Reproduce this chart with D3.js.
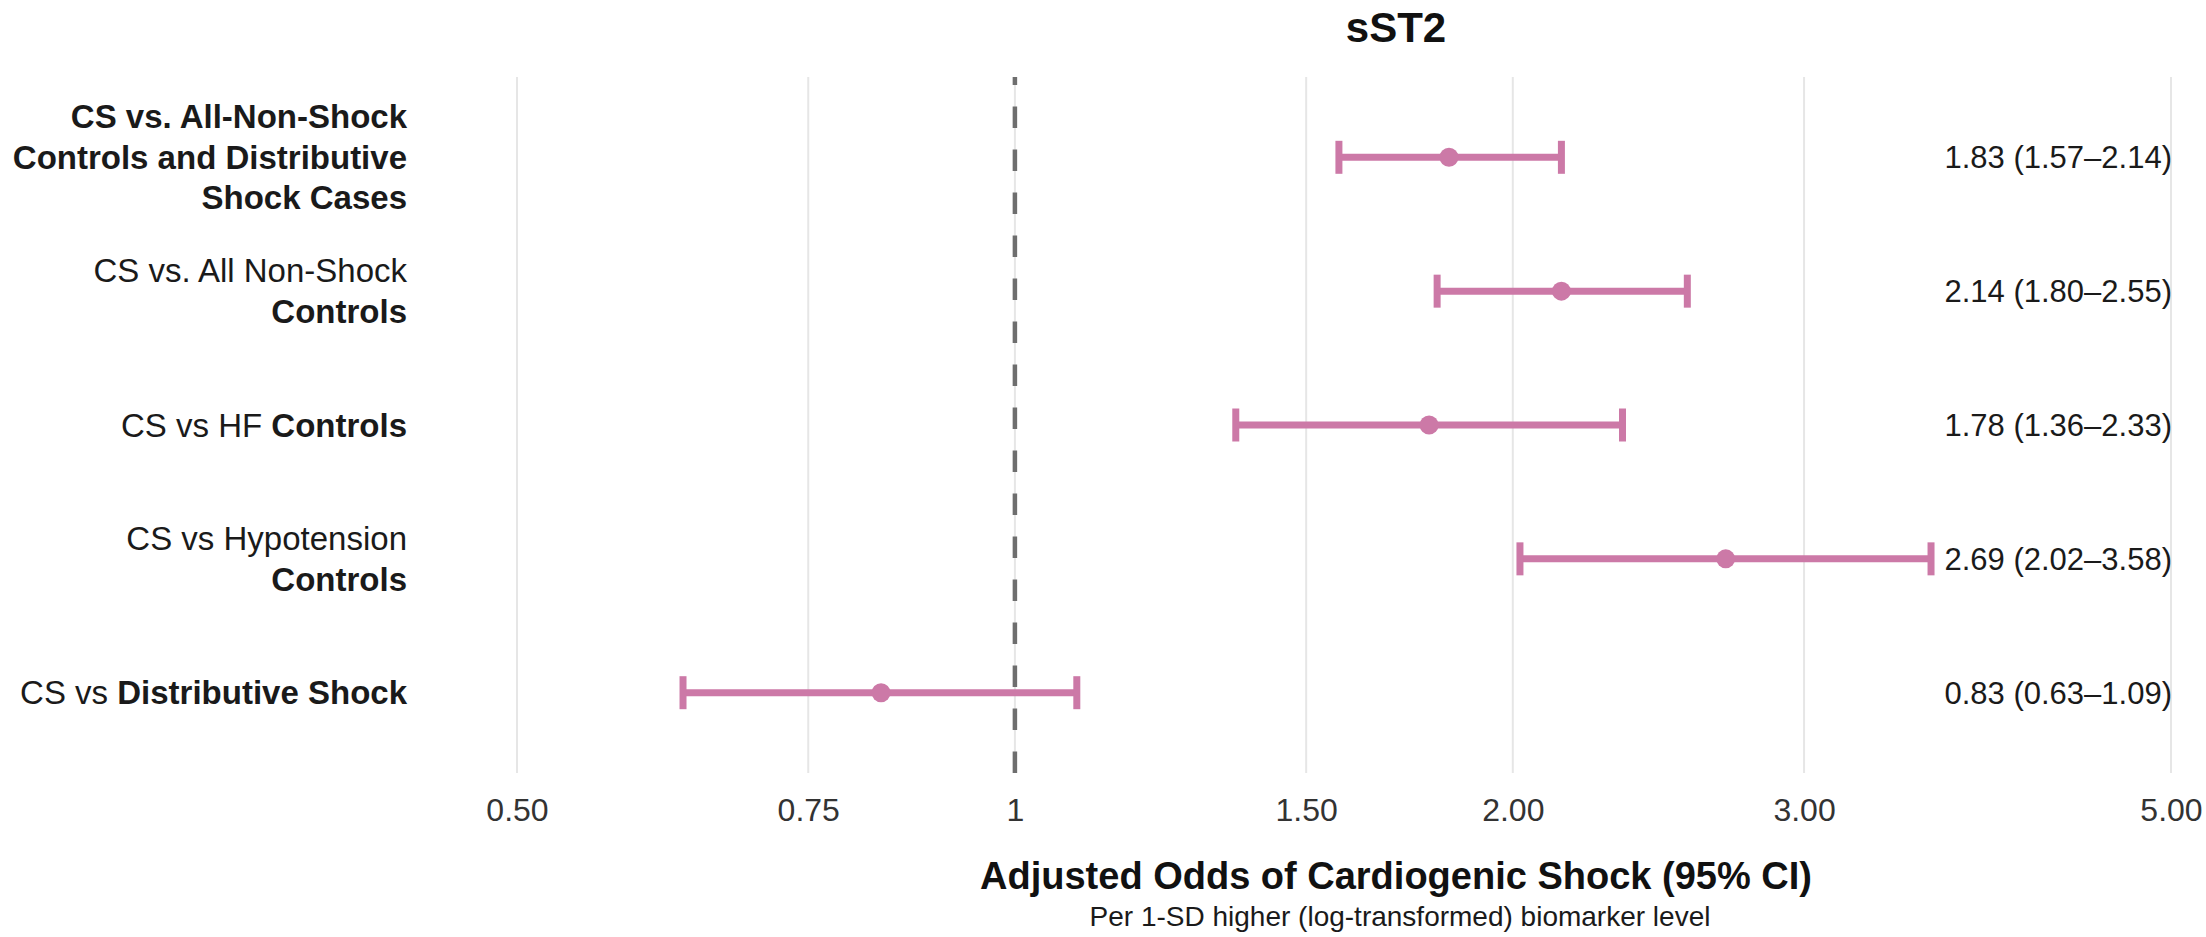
<!DOCTYPE html>
<html>
<head>
<meta charset="utf-8">
<script src="https://cdn.jsdelivr.net/npm/d3@7"></script>
<style>
  html, body { margin: 0; padding: 0; background: #fff; }
  svg { display: block; font-family: "Liberation Sans", Arial, sans-serif; }
  text { white-space: pre; }
</style>
</head>
<body>
<svg id="chart" width="2206" height="937"></svg>
<script>
// ---- data ----
const categories = ["allNonShockDist", "allNonShock", "hf", "hypotension", "distributive"];
const estimates = [1.83, 2.14, 1.78, 2.69, 0.83];
const lowerCI = [1.57, 1.80, 1.36, 2.02, 0.63];
const upperCI = [2.14, 2.55, 2.33, 3.58, 1.09];
const valueLabels = ["1.83 (1.57\u20132.14)", "2.14 (1.80\u20132.55)", "1.78 (1.36\u20132.33)", "2.69 (2.02\u20133.58)", "0.83 (0.63\u20131.09)"];
// label lines: each line is a list of [text, bold] segments
const categoryLabels = [
  [[["CS vs. All-Non-Shock", true]], [["Controls and Distributive", true]], [["Shock Cases", true]]],
  [[["CS vs. All Non-Shock", false]], [["Controls", true]]],
  [[["CS vs HF ", false], ["Controls", true]]],
  [[["CS vs Hypotension", false]], [["Controls", true]]],
  [[["CS vs ", false], ["Distributive Shock", true]]]
];
const tickValues = [0.5, 0.75, 1, 1.5, 2, 3, 5];
const tickLabels = ["0.50", "0.75", "1", "1.50", "2.00", "3.00", "5.00"];
const chartTitle = "sST2";
const xTitle = "Adjusted Odds of Cardiogenic Shock (95% CI)";
const xSubtitle = "Per 1-SD higher (log-transformed) biomarker level";

// ---- layout ----
const panel = { left: 517, right: 2171, top: 77, bottom: 773 };
const color = "#CC79A7";

const svg = d3.select("#chart");

const x = d3.scaleLog().domain([0.5, 5]).range([panel.left, panel.right]);
const y = d3.scalePoint().domain(categories).range([panel.top, panel.bottom]).padding(0.6);

// gridlines
svg.append("g").selectAll("line").data(tickValues).join("line")
  .attr("x1", d => x(d)).attr("x2", d => x(d))
  .attr("y1", panel.top).attr("y2", panel.bottom)
  .attr("stroke", "#e6e6e6").attr("stroke-width", 2);

// reference line at 1 (drawn bottom to top)
svg.append("line")
  .attr("x1", x(1)).attr("x2", x(1))
  .attr("y1", panel.bottom).attr("y2", panel.top)
  .attr("stroke", "#6e6e6e").attr("stroke-width", 4.5)
  .attr("stroke-dasharray", "21.5 21.5");

// x axis via d3.axisBottom
const xAxis = d3.axisBottom(x).tickValues(tickValues)
  .tickFormat((d, i) => tickLabels[i]).tickSize(0).tickPadding(0);
const gx = svg.append("g").attr("transform", `translate(0,${panel.bottom})`).call(xAxis);
gx.select(".domain").remove();
gx.selectAll("text")
  .attr("y", 37).attr("dy", "0.35em")
  .attr("fill", "#333").attr("font-size", 32)
  .attr("font-family", "Liberation Sans, Arial, sans-serif");

// y labels
const lineH = 40.5;
categoryLabels.forEach((lines, i) => {
  const cy = y(categories[i]);
  const n = lines.length;
  lines.forEach((segs, j) => {
    const t = svg.append("text")
      .attr("x", 407)
      .attr("y", cy + (j - (n - 1) / 2) * lineH)
      .attr("dy", "0.35em")
      .attr("text-anchor", "end")
      .attr("font-size", 33)
      .attr("fill", "#1a1a1a");
    segs.forEach(([s, b]) => {
      t.append("tspan").attr("font-weight", b ? "bold" : "normal").text(s);
    });
  });
});

// error bars
const rows = categories.map((c, i) => ({ c, est: estimates[i], lo: lowerCI[i], hi: upperCI[i], lab: valueLabels[i] }));
const g = svg.append("g");
g.selectAll("line.ci").data(rows).join("line").attr("class", "ci")
  .attr("x1", d => x(d.lo)).attr("x2", d => x(d.hi))
  .attr("y1", d => y(d.c)).attr("y2", d => y(d.c))
  .attr("stroke", color).attr("stroke-width", 7);
const capH = 16.5;
g.selectAll("line.capL").data(rows).join("line").attr("class", "capL")
  .attr("x1", d => x(d.lo)).attr("x2", d => x(d.lo))
  .attr("y1", d => y(d.c) - capH).attr("y2", d => y(d.c) + capH)
  .attr("stroke", color).attr("stroke-width", 7);
g.selectAll("line.capR").data(rows).join("line").attr("class", "capR")
  .attr("x1", d => x(d.hi)).attr("x2", d => x(d.hi))
  .attr("y1", d => y(d.c) - capH).attr("y2", d => y(d.c) + capH)
  .attr("stroke", color).attr("stroke-width", 7);
g.selectAll("circle").data(rows).join("circle")
  .attr("cx", d => x(d.est)).attr("cy", d => y(d.c)).attr("r", 9.5)
  .attr("fill", color);

// value labels
svg.append("g").selectAll("text").data(rows).join("text")
  .attr("x", x(5) + 1).attr("y", d => y(d.c)).attr("dy", "0.35em")
  .attr("text-anchor", "end").attr("font-size", 31).attr("fill", "#1a1a1a")
  .text(d => d.lab);

// titles
svg.append("text").attr("x", 1396).attr("y", 42).attr("text-anchor", "middle")
  .attr("font-size", 42).attr("font-weight", "bold").attr("fill", "#111").text(chartTitle);
svg.append("text").attr("x", 1396).attr("y", 889).attr("text-anchor", "middle")
  .attr("font-size", 38).attr("font-weight", "bold").attr("fill", "#111").text(xTitle);
svg.append("text").attr("x", 1400).attr("y", 926).attr("text-anchor", "middle")
  .attr("font-size", 28).attr("fill", "#1a1a1a").text(xSubtitle);
</script>
</body>
</html>
